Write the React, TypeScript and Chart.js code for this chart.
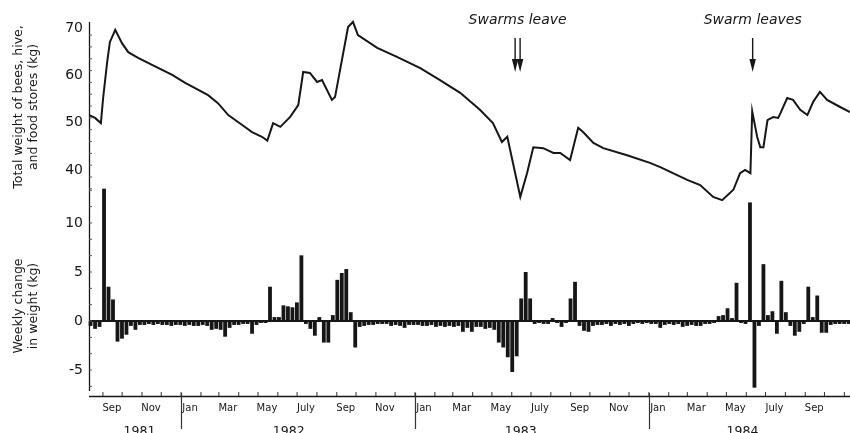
import React, { useEffect, useRef } from 'react';
import { Chart, registerables } from 'chart.js';

Chart.register(...registerables);

// Weekly change in weight (kg), one value per week starting mid-August 1981
const weeklyChange = [
  -0.5, -0.8, -0.6, 13.5, 3.5, 2.2, -2.1, -1.8, -1.4, -0.5,
  -0.9, -0.4, -0.4, -0.3, -0.4, -0.3, -0.4, -0.4, -0.5, -0.4,
  -0.4, -0.5, -0.4, -0.5, -0.5, -0.4, -0.5, -0.9, -0.8, -0.9,
  -1.6, -0.7, -0.4, -0.4, -0.3, -0.3, -1.3, -0.4, -0.2, -0.2,
  3.5, 0.4, 0.4, 1.6, 1.5, 1.4, 1.9, 6.7, -0.3, -0.8,
  -1.5, 0.4, -2.2, -2.2, 0.6, 4.2, 4.9, 5.3, 0.9, -2.7,
  -0.6, -0.5, -0.4, -0.4, -0.3, -0.3, -0.3, -0.5, -0.4, -0.5,
  -0.7, -0.4, -0.4, -0.4, -0.5, -0.5, -0.4, -0.6, -0.5, -0.6,
  -0.5, -0.6, -0.5, -1.1, -0.7, -1.1, -0.6, -0.6, -0.8, -0.7,
  -0.9, -2.2, -2.7, -3.7, -5.2, -3.6, 2.3, 5.0, 2.3, -0.3,
  -0.2, -0.3, -0.3, 0.3, -0.2, -0.6, -0.2, 2.3, 4.0, -0.5,
  -1.0, -1.1, -0.5, -0.4, -0.4, -0.3, -0.5, -0.3, -0.4, -0.3,
  -0.5, -0.3, -0.2, -0.3, -0.2, -0.3, -0.3, -0.7, -0.4, -0.3,
  -0.4, -0.3, -0.6, -0.5, -0.4, -0.5, -0.5, -0.3, -0.3, -0.2,
  0.5, 0.6, 1.3, 0.3, 3.9, -0.2, -0.3, 12.1, -6.8, -0.5,
  5.8, 0.6, 1.0, -1.3, 4.1, 0.9, -0.5, -1.5, -1.1, -0.3,
  3.5, 0.4, 2.6, -1.2, -1.2, -0.4, -0.3, -0.3, -0.3, -0.3,
];

// Total weight line: position in weeks (same week index as above) and kg
const weightWeeks = [
  -0.3, 1.0, 2.3, 2.8, 3.7, 4.3, 5.5, 7.0, 8.4, 10.6,
  13.7, 18.2, 21.1, 26.2, 28.4, 30.7, 33.8, 36.0, 38.2, 39.4,
  40.7, 42.3, 44.5, 46.3, 47.4, 48.9, 50.5, 51.6, 53.8, 54.5,
  57.4, 58.5, 59.6, 63.9, 68.3, 73.5, 77.9, 82.4, 86.8, 89.7,
  91.7, 92.9, 95.8, 97.3, 98.7, 100.9, 103.2, 104.7, 106.9, 108.7,
  109.8, 112.1, 114.3, 119.6, 124.7, 127.0, 133.0, 135.9, 138.8, 140.8,
  143.3, 144.8, 145.9, 147.1, 147.5, 148.6, 149.3, 150.0, 150.9, 152.2,
  153.3, 153.8, 155.3, 156.6, 158.2, 159.8, 161.1, 162.6, 164.2, 167.1,
  169.3,
];
const weightKg = [
  51.6, 51.0, 49.9, 55.2, 62.8, 67.0, 69.6, 66.8, 64.9, 63.7,
  62.2, 60.1, 58.4, 55.8, 54.1, 51.6, 49.5, 48.0, 47.0, 46.2,
  49.9, 49.1, 51.2, 53.7, 60.7, 60.5, 58.6, 59.0, 54.8, 55.4,
  70.2, 71.3, 68.5, 65.8, 63.9, 61.5, 59.0, 56.3, 52.7, 49.9,
  45.9, 47.0, 34.3, 39.3, 44.8, 44.6, 43.6, 43.6, 42.1, 48.9,
  48.0, 45.7, 44.6, 43.1, 41.5, 40.6, 37.9, 36.8, 34.3, 33.6,
  35.8, 39.3, 40.0, 39.3, 52.4, 47.0, 44.8, 44.8, 50.5, 51.2,
  51.0, 52.0, 55.2, 54.8, 52.7, 51.6, 54.4, 56.5, 54.8, 53.3,
  52.2,
];

// Axis labels
const topTickValues = [40, 50, 60, 70];
const bottomTickValues = [-5, 0, 5, 10];
const monthLabelText = ['Sep', 'Nov', 'Jan', 'Mar', 'May', 'July', 'Sep', 'Nov', 'Jan', 'Mar', 'May', 'July', 'Sep', 'Nov', 'Jan', 'Mar', 'May', 'July', 'Sep'];
const monthLabelYear = [1981, 1981, 1982, 1982, 1982, 1982, 1982, 1982, 1983, 1983, 1983, 1983, 1983, 1983, 1984, 1984, 1984, 1984, 1984];
const monthLabelMonth = [9, 11, 1, 3, 5, 7, 9, 11, 1, 3, 5, 7, 9, 11, 1, 3, 5, 7, 9];
const yearLabels = ['1981', '1982', '1983', '1984'];
const yearLabelMonth = [10, 6, 6, 5];
const yearLabelDay = [28, 18, 15, 26];
const boundaryYears = [1982, 1983, 1984];
const swarmText = ['Swarms leave', 'Swarm leaves'];
const swarmWeek = [95.2, 147.6];
const swarmArrows = [2, 1];

const topTitle = ['Total weight of bees, hive,', 'and food stores (kg)'];
const bottomTitle = ['Weekly change', 'in weight (kg)'];

// week index of a calendar date (week 0 = first weekly bar)
function weekOf(y: number, m: number, d: number) {
  return (Date.UTC(y, m - 1, d) - Date.UTC(1982, 0, 1)) / (7 * 86400000) + 20.18;
}

const FONT = '"DejaVu Sans", "Liberation Sans", sans-serif';
const INK = '#161616';

const decor = {
  id: 'decor',
  afterDatasetsDraw(chart: any) {
    const ctx: CanvasRenderingContext2D = chart.ctx;
    const { left, right, top, bottom } = chart.chartArea;
    const xs = chart.scales.x;
    const yW = chart.scales.yW;
    const yC = chart.scales.yC;
    ctx.save();
    ctx.strokeStyle = INK;
    ctx.fillStyle = INK;

    // zero line
    const y0 = yC.getPixelForValue(0);
    ctx.lineWidth = 2;
    ctx.beginPath();
    ctx.moveTo(left, y0);
    ctx.lineTo(right, y0);
    ctx.stroke();

    // axis lines
    ctx.lineWidth = 1.3;
    ctx.beginPath();
    ctx.moveTo(left + 0.5, top);
    ctx.lineTo(left + 0.5, bottom - 5);
    ctx.moveTo(left, bottom + 0.5);
    ctx.lineTo(right, bottom + 0.5);
    ctx.stroke();

    // minor inside ticks on y axes
    ctx.lineWidth = 1;
    ctx.strokeStyle = '#555';
    ctx.beginPath();
    for (let v = 36; v <= 70; v += 2.5) {
      const p = yW.getPixelForValue(v);
      ctx.moveTo(left, p);
      ctx.lineTo(left + 3, p);
    }
    for (let k = -4; k <= 8; k++) {
      const p = yC.getPixelForValue((k * 5) / 3);
      ctx.moveTo(left, p);
      ctx.lineTo(left + 3, p);
    }
    ctx.stroke();

    // y tick labels
    ctx.fillStyle = INK;
    ctx.font = `14px ${FONT}`;
    ctx.textAlign = 'right';
    ctx.textBaseline = 'middle';
    topTickValues.forEach((v) => ctx.fillText(String(v), left - 6, yW.getPixelForValue(v)));
    bottomTickValues.forEach((v) => ctx.fillText(String(v), left - 6, yC.getPixelForValue(v)));

    // y titles
    ctx.font = `12.5px ${FONT}`;
    ctx.textAlign = 'center';
    const drawTitle = (lines: string[], cy: number) => {
      ctx.save();
      ctx.translate(0, cy);
      ctx.rotate(-Math.PI / 2);
      ctx.fillText(lines[0], 0, 19);
      ctx.fillText(lines[1], 0, 34);
      ctx.restore();
    };
    drawTitle(topTitle, (yW.top + yW.bottom) / 2);
    drawTitle(bottomTitle, (yC.top + yC.bottom) / 2 + 12);

    // month ticks at month starts
    ctx.strokeStyle = '#333';
    ctx.beginPath();
    for (let y = 1981; y <= 1984; y++) {
      for (let m = 1; m <= 12; m++) {
        const w = weekOf(y, m, 1);
        if (w < xs.min || w > xs.max) continue;
        const p = xs.getPixelForValue(w);
        ctx.moveTo(p, bottom);
        ctx.lineTo(p, bottom - 4);
      }
    }
    ctx.stroke();

    // month labels
    ctx.fillStyle = INK;
    ctx.font = `10px ${FONT}`;
    ctx.textAlign = 'center';
    ctx.textBaseline = 'middle';
    monthLabelText.forEach((t, i) => {
      const p = xs.getPixelForValue(weekOf(monthLabelYear[i], monthLabelMonth[i], 15));
      ctx.fillText(t, p, bottom + 12);
    });

    // year separators
    ctx.strokeStyle = '#333';
    ctx.lineWidth = 1.2;
    ctx.beginPath();
    boundaryYears.forEach((y) => {
      const p = Math.round(xs.getPixelForValue(weekOf(y, 1, 1))) + 0.5;
      ctx.moveTo(p, bottom - 3);
      ctx.lineTo(p, bottom + 33);
    });
    ctx.stroke();

    // year labels
    ctx.font = `12.5px ${FONT}`;
    ctx.textBaseline = 'top';
    yearLabels.forEach((t, i) => {
      const p = xs.getPixelForValue(weekOf(Number(t), yearLabelMonth[i], yearLabelDay[i]));
      ctx.fillText(t, p, bottom + 29);
    });

    // swarm annotations
    ctx.font = `italic 14px ${FONT}`;
    ctx.textBaseline = 'middle';
    swarmText.forEach((t, i) => {
      const p = xs.getPixelForValue(swarmWeek[i]);
      ctx.fillText(t, p, 20);
      const n = swarmArrows[i];
      for (let k = 0; k < n; k++) {
        const ax = n === 1 ? p : p - 2.5 + 5 * k;
        ctx.strokeStyle = INK;
        ctx.lineWidth = 1.4;
        ctx.beginPath();
        ctx.moveTo(ax, 38);
        ctx.lineTo(ax, 62);
        ctx.stroke();
        ctx.beginPath();
        ctx.moveTo(ax - 3.2, 59);
        ctx.lineTo(ax + 3.2, 59);
        ctx.lineTo(ax, 72);
        ctx.closePath();
        ctx.fill();
      }
    });

    ctx.restore();
  },
};

export default function App() {
  const ref = useRef<HTMLCanvasElement | null>(null);

  useEffect(() => {
    if (!ref.current) return;
    const chart = new Chart(ref.current, {
      type: 'bar',
      data: {
        datasets: [
          {
            type: 'line',
            label: 'Total weight',
            data: weightWeeks.map((w, i) => ({ x: w, y: weightKg[i] })),
            xAxisID: 'x',
            yAxisID: 'yW',
            borderColor: INK,
            borderWidth: 2,
            pointRadius: 0,
            tension: 0,
            clip: false,
          } as any,
          {
            type: 'bar',
            label: 'Weekly change',
            data: weeklyChange.map((v, i) => ({ x: i, y: v })),
            xAxisID: 'x',
            yAxisID: 'yC',
            backgroundColor: INK,
            borderWidth: 0,
            barPercentage: 0.85,
            categoryPercentage: 1,
            clip: false,
          } as any,
        ],
      },
      options: {
        responsive: false,
        maintainAspectRatio: false,
        animation: false,
        devicePixelRatio: 1,
        layout: { padding: { left: 0, right: 0, top: 22, bottom: 37 } },
        plugins: { legend: { display: false }, tooltip: { enabled: false } },
        scales: {
          x: {
            type: 'linear',
            display: false,
            min: -0.35,
            max: 169.3,
            offset: false,
          },
          yW: {
            type: 'linear',
            position: 'left',
            stack: 'v',
            stackWeight: 170,
            weight: 2,
            min: 35.33,
            max: 71.27,
            grid: { display: false },
            border: { display: false },
            ticks: { display: false },
            afterFit: (s: any) => { s.width = 89; },
          },
          yC: {
            type: 'linear',
            position: 'left',
            stack: 'v',
            stackWeight: 204,
            weight: 1,
            min: -7.65,
            max: 13.16,
            grid: { display: false },
            border: { display: false },
            ticks: { display: false },
            afterFit: (s: any) => { s.width = 89; },
          },
        },
      } as any,
      plugins: [decor],
    });
    return () => chart.destroy();
  }, []);

  return (
    <div style={{ position: 'fixed', left: 0, top: 0, width: 850, height: 433, background: '#fff' }}>
      <canvas ref={ref} width={850} height={433} style={{ width: 850, height: 433 }} />
    </div>
  );
}
